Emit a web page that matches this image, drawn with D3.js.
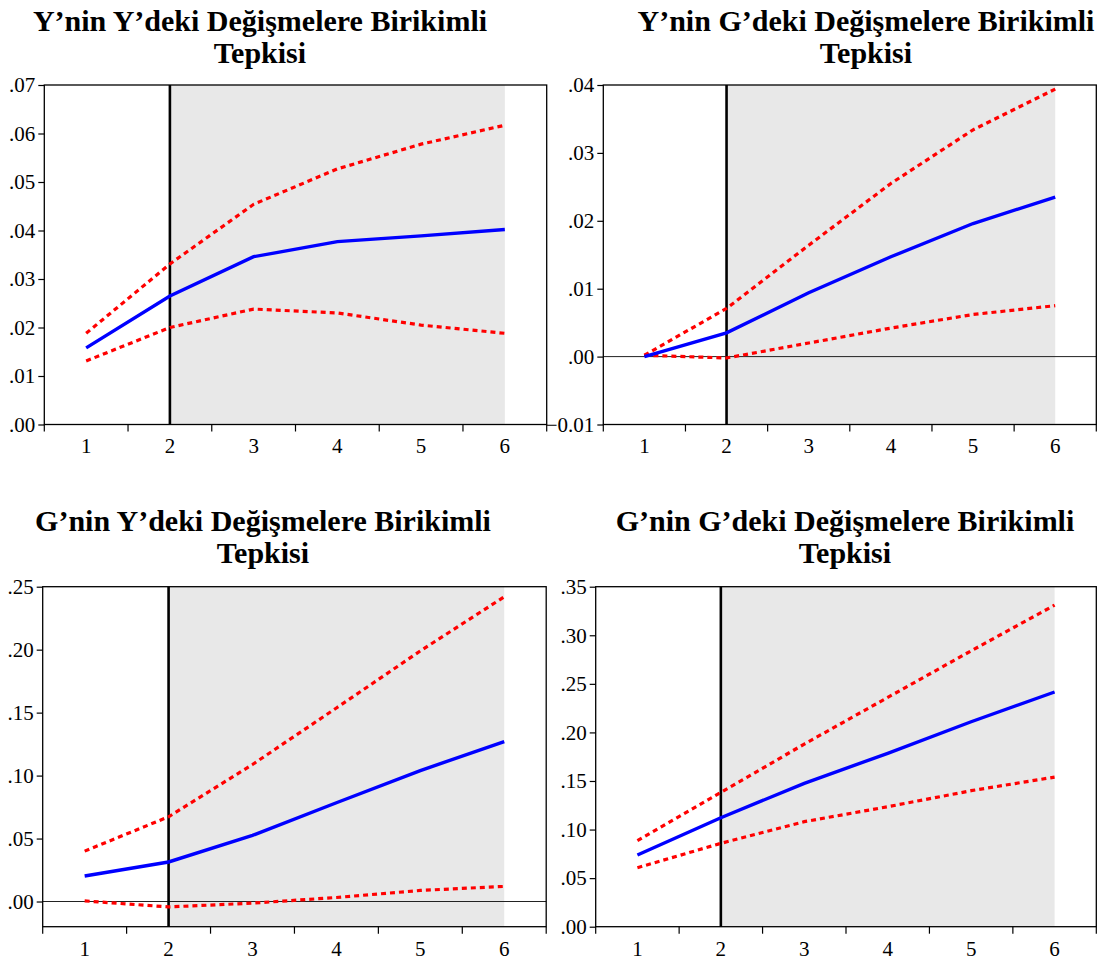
<!DOCTYPE html>
<html>
<head>
<meta charset="utf-8">
<script src="https://cdn.jsdelivr.net/npm/d3@7"></script>
<style>
  html, body { margin: 0; padding: 0; background: #ffffff; }
  svg { display: block; }
  svg text { font-family: "Liberation Serif", "Times New Roman", Times, "DejaVu Serif", serif; }
</style>
</head>
<body>
<svg id="chart" width="1118" height="962"></svg>
<script>
// Forecast horizon (periods)
const periods = [1, 2, 3, 4, 5, 6];

// Panel titles (two lines each)
const titlesYY = ["Y\u2019nin Y\u2019deki Değişmelere Birikimli", "Tepkisi"];
const titlesYG = ["Y\u2019nin G\u2019deki Değişmelere Birikimli", "Tepkisi"];
const titlesGY = ["G\u2019nin Y\u2019deki Değişmelere Birikimli", "Tepkisi"];
const titlesGG = ["G\u2019nin G\u2019deki Değişmelere Birikimli", "Tepkisi"];

// Cumulative response of Y to Y
const yyResp  = [0.0158, 0.0265, 0.0346, 0.0377, 0.0389, 0.0402];
const yyUpper = [0.0188, 0.0331, 0.0454, 0.0527, 0.0578, 0.0617];
const yyLower = [0.0131, 0.0200, 0.0238, 0.0230, 0.0205, 0.0188];

// Cumulative response of Y to G
const ygResp  = [0.0000, 0.0035, 0.0094, 0.0147, 0.0196, 0.0235];
const ygUpper = [0.0002, 0.0071, 0.0164, 0.0255, 0.0334, 0.0394];
const ygLower = [0.0002, -0.0002, 0.0020, 0.0042, 0.0062, 0.0075];

// Cumulative response of G to Y
const gyResp  = [0.0203, 0.0314, 0.0525, 0.0784, 0.1040, 0.1270];
const gyUpper = [0.0400, 0.0673, 0.1088, 0.1537, 0.1990, 0.2420];
const gyLower = [0.0005, -0.0043, -0.0013, 0.0032, 0.0088, 0.0120];

// Cumulative response of G to G
const ggResp  = [0.0738, 0.1122, 0.1476, 0.1785, 0.2110, 0.2416];
const ggUpper = [0.0885, 0.1383, 0.1880, 0.2360, 0.2840, 0.3310];
const ggLower = [0.0607, 0.0858, 0.1081, 0.1235, 0.1400, 0.1540];

// Y-axis ranges and tick values
const yyDomain = [0, 0.07];
const yyTicks  = [0, 0.01, 0.02, 0.03, 0.04, 0.05, 0.06, 0.07];
const ygDomain = [-0.01, 0.04];
const ygTicks  = [-0.01, 0, 0.01, 0.02, 0.03, 0.04];
const gyDomain = [-0.02, 0.25];
const gyTicks  = [0, 0.05, 0.10, 0.15, 0.20, 0.25];
const ggDomain = [0, 0.35];
const ggTicks  = [0, 0.05, 0.10, 0.15, 0.20, 0.25, 0.30, 0.35];

// Period marking the start of the shaded span
const markPeriod = 2;

const panels = [
  { title: titlesYY, resp: yyResp, up: yyUpper, lo: yyLower, domain: yyDomain, ticks: yyTicks,
    box: { l: 44.3, r: 546.7, t: 85, b: 424.5 }, titleX: 260, titleY: [31, 63], zero: false },
  { title: titlesYG, resp: ygResp, up: ygUpper, lo: ygLower, domain: ygDomain, ticks: ygTicks,
    box: { l: 603.3, r: 1096.3, t: 85, b: 424.5 }, titleX: 866, titleY: [31, 63], zero: true },
  { title: titlesGY, resp: gyResp, up: gyUpper, lo: gyLower, domain: gyDomain, ticks: gyTicks,
    box: { l: 42.7, r: 546.2, t: 586.7, b: 926.7 }, titleX: 263, titleY: [531, 563], zero: true },
  { title: titlesGG, resp: ggResp, up: ggUpper, lo: ggLower, domain: ggDomain, ticks: ggTicks,
    box: { l: 595.7, r: 1096.3, t: 586.7, b: 926.7 }, titleX: 845, titleY: [531, 563], zero: false }
];

const svg = d3.select("#chart");

const fmt = v => {
  const s = d3.format(".2f")(Math.abs(v) < 1e-12 ? 0 : v);
  return s.replace(/^(-?)0\./, "$1.");
};

panels.forEach(p => {
  const g = svg.append("g");
  const { l, r, t, b } = p.box;

  const x = d3.scaleBand().domain(periods).range([l, r]).padding(0);
  const xc = d => x(d) + x.bandwidth() / 2;
  const y = d3.scaleLinear().domain(p.domain).range([b, t]);

  // Title
  p.title.forEach((line, i) => {
    g.append("text")
      .attr("x", p.titleX)
      .attr("y", p.titleY[i])
      .attr("text-anchor", "middle")
      .style("font-weight", "bold")
      .style("font-size", "30px")
      .attr("fill", "#000")
      .text(line);
  });

  // Shaded span from the marked period to the last period
  g.append("rect")
    .attr("x", xc(markPeriod))
    .attr("y", t)
    .attr("width", xc(periods[periods.length - 1]) - xc(markPeriod))
    .attr("height", b - t)
    .attr("fill", "#e8e8e8");

  // Zero reference line
  if (p.zero) {
    g.append("line")
      .attr("x1", l).attr("x2", r)
      .attr("y1", y(0)).attr("y2", y(0))
      .attr("stroke", "#222").attr("stroke-width", 1);
  }

  // Vertical marker line
  g.append("line")
    .attr("x1", xc(markPeriod)).attr("x2", xc(markPeriod))
    .attr("y1", t).attr("y2", b)
    .attr("stroke", "#000").attr("stroke-width", 2.6);

  const line = d3.line().x((d, i) => xc(periods[i])).y(d => y(d));

  // Confidence bands (dotted red)
  [p.up, p.lo].forEach(arr => {
    g.append("path")
      .datum(arr)
      .attr("d", line)
      .attr("fill", "none")
      .attr("stroke", "#ff0000")
      .attr("stroke-width", 3.2)
      .attr("stroke-dasharray", "5,4");
  });

  // Point estimate (solid blue)
  g.append("path")
    .datum(p.resp)
    .attr("d", line)
    .attr("fill", "none")
    .attr("stroke", "#0000ff")
    .attr("stroke-width", 3.4);

  // Frame
  g.append("rect")
    .attr("x", l).attr("y", t)
    .attr("width", r - l).attr("height", b - t)
    .attr("fill", "none")
    .attr("stroke", "#000")
    .attr("stroke-width", 1.3);

  // Y axis
  const yAxis = d3.axisLeft(y)
    .tickValues(p.ticks)
    .tickFormat(fmt)
    .tickSize(6)
    .tickPadding(3);
  const ya = g.append("g").attr("transform", `translate(${l},0)`).call(yAxis);
  ya.attr("font-family", null).attr("font-size", null);
  ya.select(".domain").remove();
  ya.selectAll(".tick line").attr("stroke", "#000").attr("stroke-width", 1.2);
  ya.selectAll(".tick text")
    .style("font-size", "21px")
    .attr("fill", "#000");

  // X axis: ticks at band edges, labels at band centres
  const edges = periods.map(d => x(d)).concat([r]);
  g.selectAll(".xedge")
    .data(edges)
    .enter().append("line")
    .attr("x1", d => d).attr("x2", d => d)
    .attr("y1", b).attr("y2", b + 7)
    .attr("stroke", "#000").attr("stroke-width", 1.2);

  const xAxis = d3.axisBottom(x).tickSize(0).tickPadding(14);
  const xa = g.append("g").attr("transform", `translate(0,${b})`).call(xAxis);
  xa.attr("font-family", null).attr("font-size", null);
  xa.select(".domain").remove();
  xa.selectAll(".tick text")
    .style("font-size", "21px")
    .attr("fill", "#000");
});
</script>
</body>
</html>
